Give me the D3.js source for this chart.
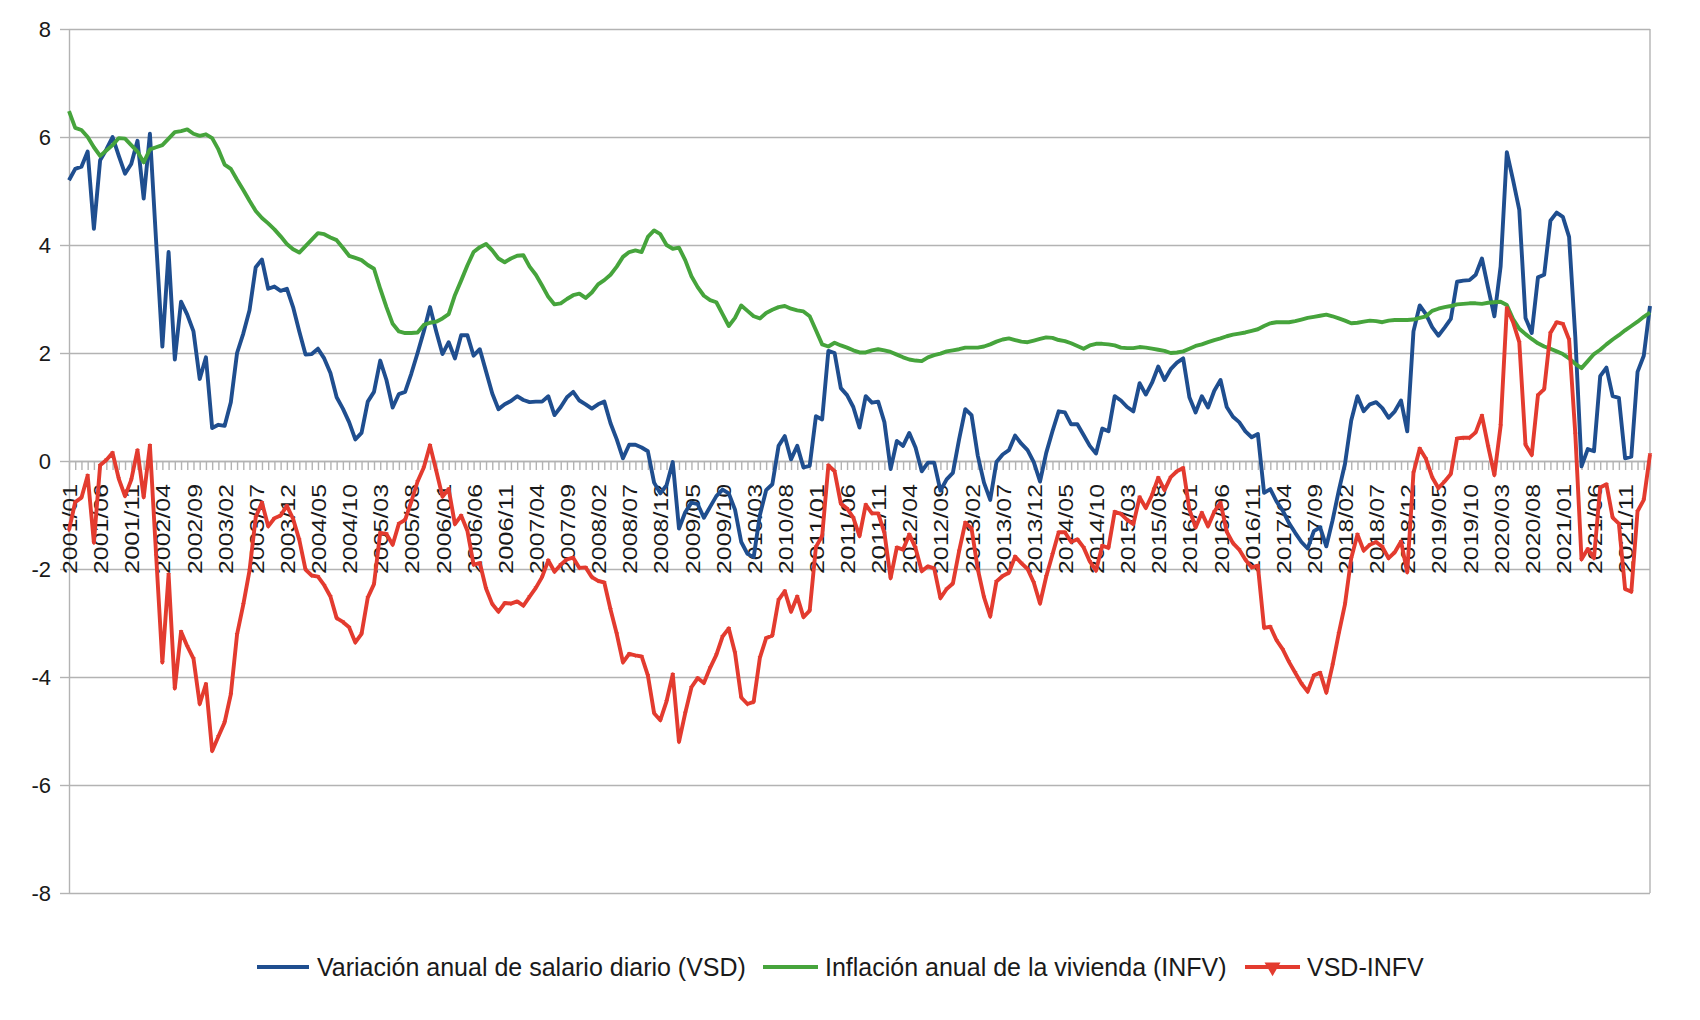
<!DOCTYPE html>
<html>
<head>
<meta charset="utf-8">
<title>VSD vs INFV</title>
<script src="https://cdn.jsdelivr.net/npm/d3@7"></script>
<style>
  html, body { margin: 0; padding: 0; background: #fff; }
  svg text { font-family: "Liberation Sans", Arial, sans-serif; fill: #1a1a1a; }
</style>
</head>
<body>
<div id="chart"></div>
<script>
// categories: one per month, 2001/01 .. 2022/03
var startYear = 2001;
var monthCount = 255;
var months = [];
for (var i = 0; i < monthCount; i++) {
  var yy = startYear + Math.floor(i / 12), mm = (i % 12) + 1;
  months.push(yy + '/' + (mm < 10 ? '0' : '') + mm);
}
var labelEvery = 5;   // every 5th month gets a label
var yTicks = [-8, -6, -4, -2, 0, 2, 4, 6, 8];

var seriesNames = ['Variación anual de salario diario (VSD)', 'Inflación anual de la vivienda (INFV)', 'VSD-INFV'];

// Variación anual de salario diario (one row per year)
var vsd = [
  5.2, 5.41, 5.45, 5.73, 4.3, 5.57, 5.77, 6.0, 5.65, 5.32, 5.5, 5.93,
  4.86, 6.06, 4.06, 2.12, 3.87, 1.88, 2.95, 2.71, 2.4, 1.52, 1.92, 0.61,
  0.67, 0.65, 1.09, 2.0, 2.36, 2.79, 3.59, 3.73, 3.19, 3.23, 3.15, 3.19,
  2.85, 2.4, 1.97, 1.98, 2.08, 1.9, 1.63, 1.18, 0.97, 0.72, 0.4, 0.52,
  1.1, 1.28, 1.86, 1.5, 0.99, 1.24, 1.28, 1.62, 2.0, 2.4, 2.85, 2.4,
  1.98, 2.2, 1.9, 2.33, 2.33, 1.95, 2.07, 1.66, 1.25, 0.96, 1.05, 1.11,
  1.2, 1.13, 1.09, 1.1, 1.1, 1.2, 0.85, 1.0, 1.18, 1.28, 1.12, 1.05,
  0.97, 1.05, 1.1, 0.7, 0.4, 0.05, 0.3, 0.3, 0.25, 0.18, -0.4, -0.6,
  -0.45, -0.02, -1.25, -0.95, -0.77, -0.8, -1.05, -0.85, -0.65, -0.53, -0.6, -0.9,
  -1.5, -1.72, -1.78, -1.0, -0.54, -0.43, 0.28, 0.46, 0.03, 0.28, -0.12, -0.09,
  0.83, 0.77, 2.04, 2.0, 1.35, 1.22, 1.0, 0.62, 1.2, 1.08, 1.1, 0.72,
  -0.15, 0.37, 0.28, 0.52, 0.25, -0.19, -0.03, -0.03, -0.55, -0.34, -0.22, 0.4,
  0.96, 0.85, 0.1, -0.4, -0.72, -0.02, 0.12, 0.2, 0.47, 0.32, 0.2, -0.02,
  -0.38, 0.15, 0.55, 0.92, 0.9, 0.68, 0.68, 0.48, 0.28, 0.14, 0.6, 0.55,
  1.2, 1.12, 1.0, 0.92, 1.44, 1.23, 1.45, 1.75, 1.5, 1.7, 1.82, 1.9,
  1.18, 0.9, 1.2, 0.99, 1.3, 1.5, 1.0, 0.82, 0.72, 0.55, 0.44, 0.5,
  -0.59, -0.52, -0.75, -0.92, -1.15, -1.33, -1.5, -1.62, -1.3, -1.23, -1.58, -1.1,
  -0.55, -0.05, 0.75, 1.2, 0.92, 1.05, 1.09, 0.98, 0.8, 0.92, 1.12, 0.55,
  2.4, 2.88, 2.72, 2.48, 2.32, 2.47, 2.63, 3.32, 3.34, 3.35, 3.45, 3.75,
  3.2, 2.68, 3.6, 5.72, 5.2, 4.65, 2.65, 2.37, 3.4, 3.45, 4.45, 4.6,
  4.52, 4.15, 2.3, -0.1, 0.22, 0.18, 1.57, 1.73, 1.2, 1.17, 0.05, 0.08,
  1.65, 1.95, 2.87
];

// Inflación anual de la vivienda
var infv = [
  6.48, 6.17, 6.13, 6.0, 5.81, 5.65, 5.75, 5.85, 5.98, 5.97, 5.85, 5.73,
  5.53, 5.77, 5.81, 5.85, 5.97, 6.09, 6.11, 6.14, 6.06, 6.02, 6.05, 5.98,
  5.77, 5.49, 5.41, 5.21, 5.02, 4.82, 4.63, 4.5, 4.4, 4.29, 4.16, 4.02,
  3.92, 3.86, 3.98, 4.1, 4.22, 4.2, 4.14, 4.09, 3.95, 3.8, 3.76, 3.72,
  3.63, 3.56, 3.19, 2.85, 2.54, 2.4, 2.37, 2.37, 2.38, 2.52, 2.56, 2.58,
  2.64, 2.72, 3.07, 3.34, 3.62, 3.87, 3.96, 4.02, 3.9, 3.75, 3.68, 3.75,
  3.8, 3.81, 3.6, 3.45, 3.25, 3.04, 2.9, 2.92, 3.0, 3.07, 3.1, 3.02,
  3.12, 3.27, 3.35, 3.45, 3.6, 3.78, 3.87, 3.9, 3.87, 4.15, 4.27, 4.2,
  4.0, 3.93, 3.95, 3.72, 3.42, 3.22, 3.06, 2.98, 2.94, 2.72, 2.5, 2.65,
  2.88, 2.78, 2.68, 2.64, 2.74, 2.8, 2.85, 2.87, 2.82, 2.79, 2.77, 2.68,
  2.42, 2.16, 2.12, 2.19, 2.14, 2.1, 2.05, 2.01, 2.01, 2.05, 2.07, 2.05,
  2.02, 1.97, 1.92, 1.88, 1.86, 1.85, 1.92, 1.96, 1.99, 2.03, 2.05, 2.07,
  2.1, 2.1, 2.1, 2.12, 2.16, 2.21, 2.25, 2.27, 2.24, 2.21, 2.2, 2.23,
  2.26, 2.29, 2.28, 2.24, 2.22, 2.18, 2.13, 2.08, 2.14, 2.17, 2.17, 2.16,
  2.14, 2.1, 2.09, 2.09, 2.11, 2.1, 2.08, 2.06, 2.04, 2.0, 2.01, 2.03,
  2.08, 2.13, 2.16, 2.2, 2.24, 2.27, 2.31, 2.34, 2.36, 2.38, 2.41, 2.44,
  2.5, 2.55, 2.57, 2.57, 2.57, 2.59, 2.62, 2.65, 2.67, 2.69, 2.71, 2.68,
  2.64, 2.6, 2.55, 2.56, 2.58, 2.6, 2.59, 2.57, 2.6, 2.61, 2.61, 2.61,
  2.62, 2.65, 2.68, 2.78, 2.82, 2.85, 2.87, 2.9, 2.91, 2.92, 2.92, 2.91,
  2.93, 2.94, 2.95, 2.89, 2.63, 2.45, 2.35, 2.26, 2.18, 2.12, 2.08, 2.03,
  1.98, 1.9, 1.8, 1.72, 1.85, 1.98, 2.06, 2.16, 2.25, 2.33, 2.42, 2.5,
  2.58, 2.67, 2.75
];

// VSD-INFV
var vsdInfv = [
  -1.28, -0.76, -0.68, -0.27, -1.51, -0.08, 0.02, 0.15, -0.33, -0.65, -0.35, 0.2,
  -0.67, 0.29, -1.75, -3.73, -2.1, -4.21, -3.16, -3.43, -3.66, -4.5, -4.13, -5.37,
  -5.1, -4.84, -4.32, -3.21, -2.66, -2.03, -1.04, -0.77, -1.21, -1.06, -1.01, -0.83,
  -1.07, -1.46, -2.01, -2.12, -2.14, -2.3, -2.51, -2.91, -2.98, -3.08, -3.36, -3.2,
  -2.53, -2.28, -1.33, -1.35, -1.55, -1.16, -1.09, -0.75, -0.38, -0.12, 0.29, -0.18,
  -0.66, -0.52, -1.17, -1.01, -1.29, -1.92, -1.89, -2.36, -2.65, -2.79, -2.63, -2.64,
  -2.6, -2.68, -2.51, -2.35, -2.15, -1.84, -2.05, -1.92, -1.82, -1.79, -1.98, -1.97,
  -2.15, -2.22, -2.25, -2.75, -3.2, -3.73, -3.57, -3.6, -3.62, -3.97, -4.67, -4.8,
  -4.45, -3.95, -5.2, -4.67, -4.19, -4.02, -4.11, -3.83, -3.59, -3.25, -3.1, -3.55,
  -4.38, -4.5, -4.46, -3.64, -3.28, -3.23, -2.57, -2.41, -2.79, -2.51, -2.89, -2.77,
  -1.59, -1.39, -0.08, -0.19, -0.79, -0.88, -1.05, -1.39, -0.81, -0.97, -0.97, -1.33,
  -2.17, -1.6, -1.64, -1.36, -1.61, -2.04, -1.95, -1.99, -2.54, -2.37, -2.27, -1.67,
  -1.14, -1.25, -2.0, -2.52, -2.88, -2.23, -2.13, -2.07, -1.77, -1.89, -2.0, -2.25,
  -2.64, -2.14, -1.73, -1.32, -1.32, -1.5, -1.45, -1.6, -1.86, -2.03, -1.57, -1.61,
  -0.94, -0.98, -1.09, -1.17, -0.67, -0.87, -0.63, -0.31, -0.54, -0.3, -0.19, -0.13,
  -0.9, -1.23, -0.96, -1.21, -0.94, -0.77, -1.31, -1.52, -1.64, -1.83, -1.97, -1.94,
  -3.09, -3.07, -3.32, -3.49, -3.72, -3.92, -4.12, -4.27, -3.97, -3.92, -4.29, -3.78,
  -3.19, -2.65, -1.8, -1.36, -1.66, -1.55, -1.5, -1.59, -1.8, -1.69, -1.49, -2.06,
  -0.22, 0.23, 0.04, -0.3, -0.5, -0.38, -0.24, 0.42, 0.43, 0.43, 0.53, 0.84,
  0.27, -0.26, 0.65, 2.83, 2.57, 2.2, 0.3, 0.11, 1.22, 1.33, 2.37, 2.57,
  2.54, 2.25, 0.5, -1.82, -1.63, -1.8, -0.49, -0.43, -1.05, -1.16, -2.37, -2.42,
  -0.93, -0.72, 0.12
];

var width = 1700, height = 1020;
var margin = {top: 29, right: 50, bottom: 127, left: 69};
var colors = ['#1f4e8f', '#46a43c', '#e33b2f'];
var gridColor = '#b3b3b3';

var svg = d3.select('#chart').append('svg')
  .attr('width', width).attr('height', height);

var x = d3.scalePoint().domain(months).range([margin.left, width - margin.right]);
var y = d3.scaleLinear().domain([-8, 8]).range([height - margin.bottom, margin.top]);

// horizontal grid
svg.append('g')
  .attr('transform', 'translate(' + margin.left + ',0)')
  .call(d3.axisLeft(y).tickValues(yTicks).tickSize(-(width - margin.left - margin.right)).tickFormat(''))
  .call(function (g) {
    g.select('.domain').remove();
    g.selectAll('line').attr('stroke', gridColor).attr('stroke-width', 1.4);
  });

// right frame edge
svg.append('line')
  .attr('x1', width - margin.right).attr('x2', width - margin.right)
  .attr('y1', margin.top).attr('y2', height - margin.bottom)
  .attr('stroke', gridColor).attr('stroke-width', 1.4);

// y axis
svg.append('g')
  .attr('transform', 'translate(' + margin.left + ',0)')
  .call(d3.axisLeft(y).tickValues(yTicks).tickSize(9).tickSizeOuter(0).tickPadding(9)
    .tickFormat(function (d) { return String(d); }))
  .call(function (g) {
    g.select('.domain').attr('stroke', gridColor).attr('stroke-width', 1.4);
    g.selectAll('line').attr('stroke', gridColor).attr('stroke-width', 1.4);
    g.selectAll('text').style('font-size', '22px').attr('fill', '#1a1a1a');
  });

// x axis on the zero line, a tick for every month
var xAxis = svg.append('g')
  .attr('transform', 'translate(0,' + y(0) + ')')
  .call(d3.axisBottom(x).tickSize(9).tickSizeOuter(0)
    .tickFormat(function (d, i) { return i % labelEvery === 0 ? d : ''; }));
xAxis.select('.domain').attr('stroke', gridColor).attr('stroke-width', 1.4);
xAxis.selectAll('line').attr('stroke', gridColor).attr('stroke-width', 1.4);
xAxis.selectAll('text')
  .attr('transform', 'rotate(-90)')
  .attr('x', -23).attr('y', 0).attr('dy', '0.36em')
  .style('text-anchor', 'end')
  .style('font-size', '21px')
  .attr('fill', '#1a1a1a')
  .each(function (d, i) {
    if (i % labelEvery === 0) d3.select(this).attr('textLength', 90).attr('lengthAdjust', 'spacingAndGlyphs');
  });

// series lines
var line = d3.line()
  .x(function (d, i) { return x(months[i]); })
  .y(function (d) { return y(d); });

[vsd, infv, vsdInfv].forEach(function (values, k) {
  svg.append('path')
    .datum(values)
    .attr('fill', 'none')
    .attr('stroke', colors[k])
    .attr('stroke-width', 3.9)
    .attr('stroke-linejoin', 'round')
    .attr('d', line);
});

// tiny down-triangle markers on VSD-INFV
var tri = d3.symbol().type(d3.symbolTriangle).size(9);
svg.append('g').selectAll('path')
  .data(vsdInfv)
  .enter().append('path')
  .attr('d', tri)
  .attr('fill', colors[2])
  .attr('transform', function (d, i) { return 'translate(' + x(months[i]) + ',' + y(d) + ') rotate(180)'; });

// legend
var legendY = 967;
var legendItems = [
  {x1: 257, x2: 309, tx: 317},
  {x1: 763, x2: 818, tx: 825},
  {x1: 1245, x2: 1300, tx: 1307}
];
var legend = svg.append('g');
legendItems.forEach(function (it, k) {
  legend.append('line')
    .attr('x1', it.x1).attr('x2', it.x2)
    .attr('y1', legendY).attr('y2', legendY)
    .attr('stroke', colors[k]).attr('stroke-width', 4);
  legend.append('text')
    .attr('x', it.tx).attr('y', legendY).attr('dy', '0.35em')
    .style('font-size', '25px')
    .text(seriesNames[k]);
});
legend.append('path')
  .attr('d', d3.symbol().type(d3.symbolTriangle).size(110))
  .attr('fill', colors[2])
  .attr('transform', 'translate(' + (legendItems[2].x1 + legendItems[2].x2) / 2 + ',' + legendY + ') rotate(180)');
</script>
</body>
</html>
